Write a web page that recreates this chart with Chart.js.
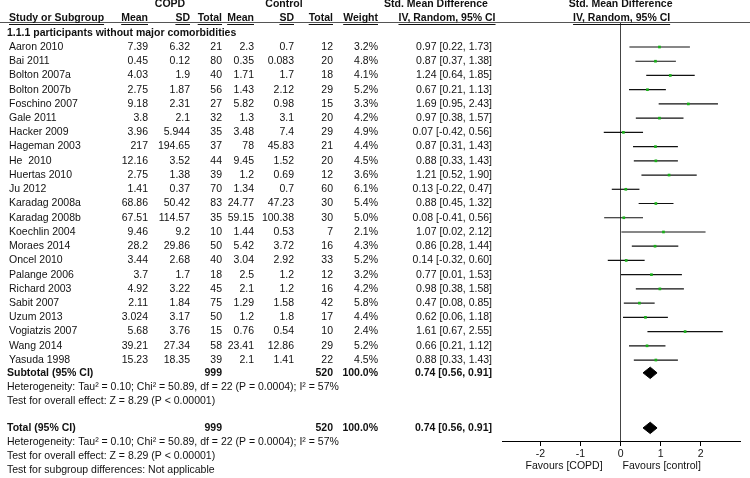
<!DOCTYPE html>
<html>
<head>
<meta charset="utf-8">
<script src="https://cdn.jsdelivr.net/npm/chart.js@4.4.1/dist/chart.umd.min.js"></script>
<style>
  html, body { margin: 0; padding: 0; background: #fff; }
  canvas { display: block; }
</style>
</head>
<body>
<canvas id="forestChart" width="750" height="478"></canvas>
<script>
// study rows
const studies = ['Aaron 2010', 'Bai 2011', 'Bolton 2007a', 'Bolton 2007b', 'Foschino 2007', 'Gale 2011',
    'Hacker 2009', 'Hageman 2003', 'He  2010', 'Huertas 2010', 'Ju 2012', 'Karadag 2008a', 'Karadag 2008b',
    'Koechlin 2004', 'Moraes 2014', 'Oncel 2010', 'Palange 2006', 'Richard 2003', 'Sabit 2007', 'Uzum 2013',
    'Vogiatzis 2007', 'Wang 2014', 'Yasuda 1998'];
const copdMean = [7.39, 0.45, 4.03, 2.75, 9.18, 3.8, 3.96, 217, 12.16, 2.75, 1.41, 68.86, 67.51, 9.46, 28.2, 3.44, 3.7, 4.92, 2.11, 3.024, 5.68, 39.21, 15.23];
const copdSD = [6.32, 0.12, 1.9, 1.87, 2.31, 2.1, 5.944, 194.65, 3.52, 1.38, 0.37, 50.42, 114.57, 9.2, 29.86, 2.68, 1.7, 3.22, 1.84, 3.17, 3.76, 27.34, 18.35];
const copdTotal = [21, 80, 40, 56, 27, 32, 35, 37, 44, 39, 70, 83, 35, 10, 50, 40, 18, 45, 75, 50, 15, 58, 39];
const ctrlMean = [2.3, 0.35, 1.71, 1.43, 5.82, 1.3, 3.48, 78, 9.45, 1.2, 1.34, 24.77, 59.15, 1.44, 5.42, 3.04, 2.5, 2.1, 1.29, 1.2, 0.76, 23.41, 2.1];
const ctrlSD = [0.7, 0.083, 1.7, 2.12, 0.98, 3.1, 7.4, 45.83, 1.52, 0.69, 0.7, 47.23, 100.38, 0.53, 3.72, 2.92, 1.2, 1.2, 1.58, 1.8, 0.54, 12.86, 1.41];
const ctrlTotal = [12, 20, 18, 29, 15, 20, 29, 21, 20, 12, 60, 30, 30, 7, 16, 33, 12, 16, 42, 17, 10, 29, 22];
const weights = [3.2, 4.8, 4.1, 5.2, 3.3, 4.2, 4.9, 4.4, 4.5, 3.6, 6.1, 5.4, 5.0, 2.1, 4.3, 5.2, 3.2, 4.2, 5.8, 4.4, 2.4, 5.2, 4.5];
const smd = [0.97, 0.87, 1.24, 0.67, 1.69, 0.97, 0.07, 0.87, 0.88, 1.21, 0.13, 0.88, 0.08, 1.07, 0.86, 0.14, 0.77, 0.98, 0.47, 0.62, 1.61, 0.66, 0.88];
const ciLow = [0.22, 0.37, 0.64, 0.21, 0.95, 0.38, -0.42, 0.31, 0.33, 0.52, -0.22, 0.45, -0.41, 0.02, 0.28, -0.32, 0.01, 0.38, 0.08, 0.06, 0.67, 0.21, 0.33];
const ciHigh = [1.73, 1.38, 1.85, 1.13, 2.43, 1.57, 0.56, 1.43, 1.43, 1.90, 0.47, 1.32, 0.56, 2.12, 1.44, 0.60, 1.53, 1.58, 0.85, 1.18, 2.55, 1.12, 1.43];

// pooled result (same for subtotal and total)
const pooledEst = 0.74;
const pooledLow = 0.56;
const pooledHigh = 0.91;
const pooledWeight = 100.0;

const tickValues = [-2, -1, 0, 1, 2];

const hetText = 'Heterogeneity: Tau\u00b2 = 0.10; Chi\u00b2 = 50.89, df = 22 (P = 0.0004); I\u00b2 = 57%';
const effectText = 'Test for overall effect: Z = 8.29 (P < 0.00001)';
const subgroupText = 'Test for subgroup differences: Not applicable';

const FONT = '"Liberation Sans", Arial, sans-serif';
const FS = 10.5;
const n = studies.length;
const subtotalRow = n - 0.1;
const totalRow = n + 3.77;

// right edges of the table columns
const colCopdMean = 148, colCopdSD = 190, colCopdTotal = 222;
const colCtrlMean = 254, colCtrlSD = 294, colCtrlTotal = 333;
const colWeight = 378, colCI = 492;

function fmtCI(est, lo, hi) {
    return est.toFixed(2) + ' [' + lo.toFixed(2) + ', ' + hi.toFixed(2) + ']';
}

function diamond(row, est, lo, hi) {
    const h = 0.4;
    return [
        {x: lo, y: row}, {x: est, y: row - h}, {x: hi, y: row},
        {x: est, y: row + h}, {x: lo, y: row}
    ];
}

const sumCopd = copdTotal.reduce((a, b) => a + b, 0);
const sumCtrl = ctrlTotal.reduce((a, b) => a + b, 0);

const tablePlugin = {
    id: 'forestTable',
    afterDraw(chart) {
        const ctx = chart.ctx;
        const ys = chart.scales.y;
        const xs = chart.scales.x;
        const zeroX = xs.getPixelForValue(0);

        function text(str, x, row, align, bold, underline) {
            ctx.font = (bold ? 'bold ' : '') + FS + 'px ' + FONT;
            ctx.textAlign = align || 'left';
            ctx.textBaseline = 'middle';
            ctx.fillStyle = '#111';
            const yy = ys.getPixelForValue(row);
            ctx.fillText(str, x, yy);
            if (underline) {
                const w = ctx.measureText(str).width;
                let x0 = x;
                if (align === 'right') x0 = x - w;
                if (align === 'center') x0 = x - w / 2;
                ctx.strokeStyle = '#111';
                ctx.lineWidth = 1;
                ctx.beginPath();
                ctx.moveTo(x0, Math.round(yy + 5) + 0.5);
                ctx.lineTo(x0 + w, Math.round(yy + 5) + 0.5);
                ctx.stroke();
            }
        }

        ctx.save();

        // header rule
        ctx.strokeStyle = '#555';
        ctx.lineWidth = 1;
        ctx.beginPath();
        ctx.moveTo(0, 22.5);
        ctx.lineTo(750, 22.5);
        ctx.stroke();

        // headers
        text('COPD', 170, -3, 'center', true);
        text('Control', 284, -3, 'center', true);
        text('Std. Mean Difference', 436, -3, 'center', true);
        text('Std. Mean Difference', zeroX, -3, 'center', true);
        text('Study or Subgroup', 9, -2, 'left', true, true);
        text('Mean', colCopdMean, -2, 'right', true, true);
        text('SD', colCopdSD, -2, 'right', true, true);
        text('Total', colCopdTotal, -2, 'right', true, true);
        text('Mean', colCtrlMean, -2, 'right', true, true);
        text('SD', colCtrlSD, -2, 'right', true, true);
        text('Total', colCtrlTotal, -2, 'right', true, true);
        text('Weight', colWeight, -2, 'right', true, true);
        text('IV, Random, 95% CI', 447, -2, 'center', true, true);
        text('IV, Random, 95% CI', zeroX + 1, -2, 'center', true, true);
        text('1.1.1 participants without major comorbidities', 7, -1, 'left', true);

        // study rows
        studies.forEach((s, i) => {
            text(s, 9, i, 'left');
            text(String(copdMean[i]), colCopdMean, i, 'right');
            text(String(copdSD[i]), colCopdSD, i, 'right');
            text(String(copdTotal[i]), colCopdTotal, i, 'right');
            text(String(ctrlMean[i]), colCtrlMean, i, 'right');
            text(String(ctrlSD[i]), colCtrlSD, i, 'right');
            text(String(ctrlTotal[i]), colCtrlTotal, i, 'right');
            text(weights[i].toFixed(1) + '%', colWeight, i, 'right');
            text(fmtCI(smd[i], ciLow[i], ciHigh[i]), colCI, i, 'right');
        });

        // subtotal and total
        [['Subtotal (95% CI)', subtotalRow], ['Total (95% CI)', totalRow]].forEach(([label, r]) => {
            text(label, 7, r, 'left', true);
            text(String(sumCopd), colCopdTotal, r, 'right', true);
            text(String(sumCtrl), colCtrlTotal, r, 'right', true);
            text(pooledWeight.toFixed(1) + '%', colWeight, r, 'right', true);
            text(fmtCI(pooledEst, pooledLow, pooledHigh), colCI, r, 'right', true);
            text(hetText, 7, r + 1, 'left');
            text(effectText, 7, r + 2, 'left');
        });
        text(subgroupText, 7, totalRow + 2.98, 'left');

        // favours labels under the axis
        ctx.font = FS + 'px ' + FONT;
        ctx.fillStyle = '#111';
        ctx.textBaseline = 'middle';
        ctx.textAlign = 'right';
        ctx.fillText('Favours [COPD]', zeroX - 18, 466);
        ctx.textAlign = 'left';
        ctx.fillText('Favours [control]', zeroX + 2, 466);

        ctx.restore();
    }
};

const ciDatasets = studies.map((s, i) => ({
    type: 'line',
    data: [{x: ciLow[i], y: i}, {x: ciHigh[i], y: i}],
    borderColor: '#111',
    borderWidth: 1.2,
    pointRadius: 0,
    fill: false
}));

const pointDataset = {
    type: 'scatter',
    data: studies.map((s, i) => ({x: smd[i], y: i})),
    pointStyle: 'rect',
    pointRadius: 1.9,
    backgroundColor: '#19b019',
    borderWidth: 0
};

const diamondDatasets = [subtotalRow, totalRow].map(r => ({
    type: 'line',
    data: diamond(r, pooledEst, pooledLow, pooledHigh),
    borderColor: '#000',
    backgroundColor: '#000',
    borderWidth: 1,
    pointRadius: 0,
    tension: 0,
    fill: 'shape'
}));

new Chart(document.getElementById('forestChart'), {
    type: 'scatter',
    data: {
        datasets: [pointDataset].concat(diamondDatasets, ciDatasets)
    },
    options: {
        responsive: false,
        animation: false,
        devicePixelRatio: 1,
        layout: {
            padding: {top: 23, left: 502, right: 10, bottom: 0}
        },
        plugins: {
            legend: {display: false},
            tooltip: {enabled: false}
        },
        scales: {
            x: {
                type: 'linear',
                min: -2.96,
                max: 2.98,
                afterBuildTicks: axis => { axis.ticks = tickValues.map(v => ({value: v})); },
                afterFit: axis => { axis.height = 37; },
                ticks: {
                    font: {family: FONT, size: FS},
                    color: '#111',
                    padding: 2
                },
                grid: {
                    color: c => (c.tick && c.tick.value === 0) ? '#444' : 'rgba(0,0,0,0)',
                    tickColor: '#000',
                    tickLength: 5,
                    lineWidth: 1
                },
                border: {color: '#000'}
            },
            y: {
                type: 'linear',
                display: false,
                reverse: true,
                min: -1.687,
                max: 27.69
            }
        }
    },
    plugins: [tablePlugin]
});
</script>
</body>
</html>
